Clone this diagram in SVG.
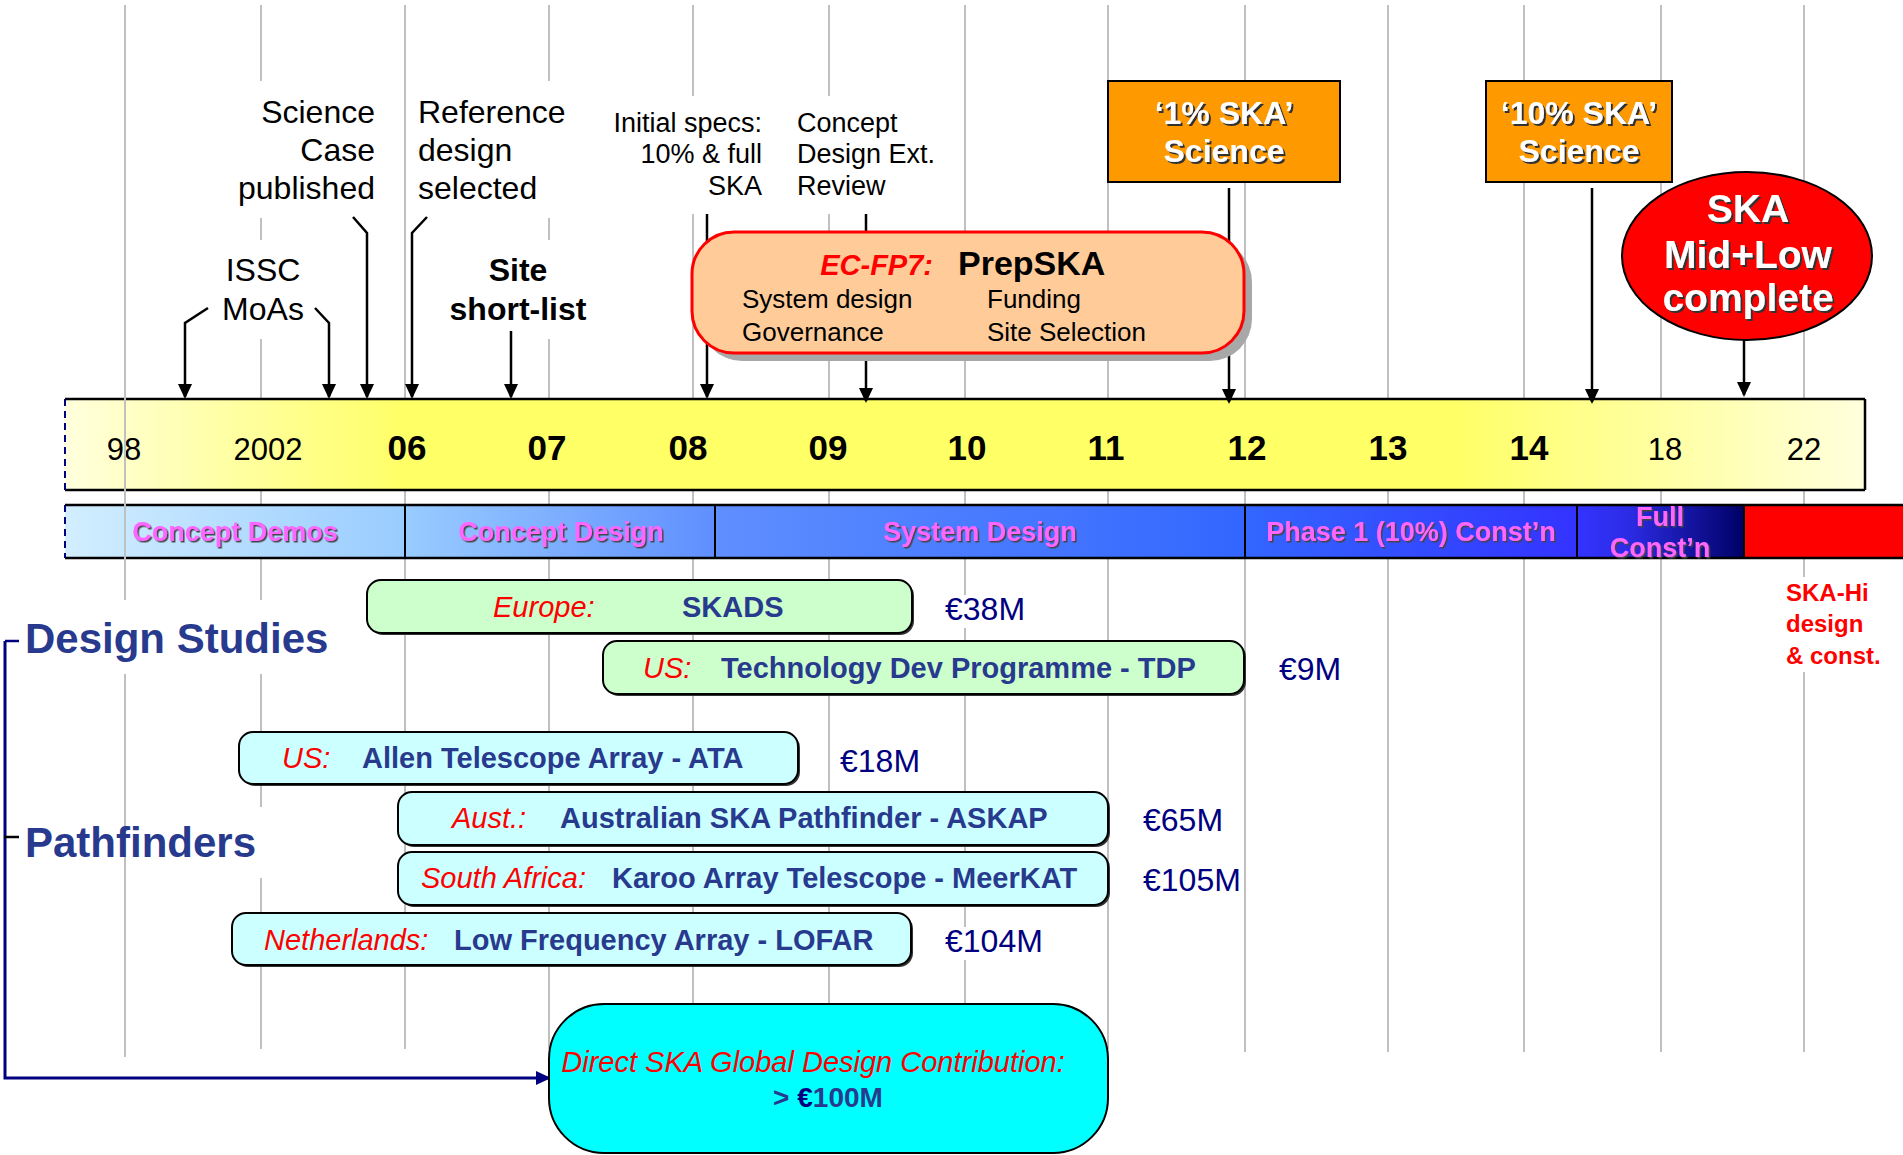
<svg xmlns="http://www.w3.org/2000/svg" width="1903" height="1155" viewBox="0 0 1903 1155">
<style>
text{font-family:"Liberation Sans",Arial,Helvetica,sans-serif}
.g{stroke:#C0C0C0;stroke-width:2;fill:none}
.bg{fill:#FFFFFF}
.lbl{font-size:32px;fill:#000}
.lbl27{font-size:27px;fill:#000}
.yr{font-size:31px;fill:#000}
.yrb{font-size:35px;font-weight:bold;fill:#000}
.ph{font-size:27px;font-weight:bold;fill:#FF66FF;filter:url(#sh1)}
.wt{font-weight:bold;fill:#FFFFFF;filter:url(#sh2)}
.arr{stroke:#000;stroke-width:2.5;fill:none;marker-end:url(#ah)}
.red{fill:#FF0000;font-style:italic}
.nv{fill:#283A8E;font-weight:bold}
.eu{fill:#000080;font-size:32px}
.bx{font-size:29px}
.gbox{fill:#CCFFCC;stroke:#000;stroke-width:2}
.cbox{fill:#CCFFFF;stroke:#000;stroke-width:2}
.shd{fill:#333}
.hd{font-size:42px;font-weight:bold;fill:#283A8E}
</style>
<defs>
<filter id="sh1" x="-5%" y="-20%" width="110%" height="140%"><feDropShadow dx="1.5" dy="1.5" stdDeviation="0" flood-color="#444"/></filter>
<filter id="sh2" x="-5%" y="-20%" width="110%" height="140%"><feDropShadow dx="2" dy="2" stdDeviation="0.3" flood-color="#333"/></filter>
<marker id="ah" viewBox="0 0 15 14" refX="13" refY="7" markerWidth="15" markerHeight="14" markerUnits="userSpaceOnUse" orient="auto"><path d="M0,0 L15,7 L0,14 z" fill="#000"/></marker>
<marker id="ahn" viewBox="0 0 15 14" refX="13" refY="7" markerWidth="15" markerHeight="14" markerUnits="userSpaceOnUse" orient="auto"><path d="M0,0 L15,7 L0,14 z" fill="#000080"/></marker>
<linearGradient id="yel" gradientUnits="userSpaceOnUse" x1="65" y1="0" x2="1865" y2="0">
<stop offset="0" stop-color="#FFFFDD"/><stop offset="0.19" stop-color="#FFFF66"/><stop offset="0.77" stop-color="#FFFF66"/><stop offset="1" stop-color="#FFFFDD"/>
</linearGradient>
<linearGradient id="p1" x1="0" y1="0" x2="1" y2="0"><stop offset="0" stop-color="#D2EEFF"/><stop offset="1" stop-color="#99CCFF"/></linearGradient>
<linearGradient id="p2" x1="0" y1="0" x2="1" y2="0"><stop offset="0" stop-color="#99CCFF"/><stop offset="1" stop-color="#5F8FFF"/></linearGradient>
<linearGradient id="p3" x1="0" y1="0" x2="1" y2="0"><stop offset="0" stop-color="#5F8FFF"/><stop offset="1" stop-color="#3366FF"/></linearGradient>
<linearGradient id="p4" x1="0" y1="0" x2="1" y2="0"><stop offset="0" stop-color="#3366FF"/><stop offset="1" stop-color="#3333FF"/></linearGradient>
<linearGradient id="p5" x1="0" y1="0" x2="1" y2="0"><stop offset="0" stop-color="#3333FF"/><stop offset="0.3" stop-color="#2C2CE6"/><stop offset="1" stop-color="#000066"/></linearGradient>
</defs>

<rect width="1903" height="1155" fill="#FFFFFF"/>

<g id="grid">
<line class="g" x1="261" y1="5" x2="261" y2="1049"/>
<line class="g" x1="405" y1="5" x2="405" y2="1049"/>
<line class="g" x1="549" y1="5" x2="549" y2="1049"/>
<line class="g" x1="693" y1="5" x2="693" y2="1049"/>
<line class="g" x1="829" y1="5" x2="829" y2="1049"/>
<line class="g" x1="965" y1="5" x2="965" y2="1049"/>
<line class="g" x1="1108" y1="5" x2="1108" y2="1049"/>
<line class="g" x1="1245" y1="5" x2="1245" y2="1052"/>
<line class="g" x1="1388" y1="5" x2="1388" y2="1052"/>
<line class="g" x1="1524" y1="5" x2="1524" y2="1052"/>
<line class="g" x1="1661" y1="5" x2="1661" y2="1052"/>
<line class="g" x1="1804" y1="5" x2="1804" y2="1052"/>
</g>

<g id="text-backgrounds">
<rect class="bg" x="250" y="81" width="135" height="137"/>
<rect class="bg" x="412" y="81" width="163" height="137"/>
<rect class="bg" x="215" y="240" width="95" height="99"/>
<rect class="bg" x="445" y="240" width="147" height="99"/>
<rect class="bg" x="610" y="96" width="158" height="118"/>
<rect class="bg" x="792" y="96" width="148" height="118"/>
<rect class="bg" x="20" y="600" width="325" height="74"/>
<rect class="bg" x="20" y="807" width="250" height="71"/>
<rect class="bg" x="1780" y="577" width="110" height="95"/>
<rect class="bg" x="940" y="595" width="90" height="33"/>
<rect class="bg" x="940" y="927" width="100" height="33"/>
</g>

<g id="timeline-bar">
<rect x="65" y="399" width="1800" height="91" fill="url(#yel)"/>
<line x1="65" y1="399" x2="1865" y2="399" stroke="#000" stroke-width="2.5"/>
<line x1="65" y1="490" x2="1865" y2="490" stroke="#000" stroke-width="2.5"/>
<line x1="1865" y1="399" x2="1865" y2="490" stroke="#000" stroke-width="2.5"/>
<line x1="65" y1="399" x2="65" y2="490" stroke="#000080" stroke-width="2" stroke-dasharray="7,5"/>
<text class="yr" x="124" y="460" text-anchor="middle">98</text>
<text class="yr" x="268" y="460" text-anchor="middle">2002</text>
<text class="yrb" x="407" y="460" text-anchor="middle">06</text>
<text class="yrb" x="547" y="460" text-anchor="middle">07</text>
<text class="yrb" x="688" y="460" text-anchor="middle">08</text>
<text class="yrb" x="828" y="460" text-anchor="middle">09</text>
<text class="yrb" x="967" y="460" text-anchor="middle">10</text>
<text class="yrb" x="1106" y="460" text-anchor="middle">11</text>
<text class="yrb" x="1247" y="460" text-anchor="middle">12</text>
<text class="yrb" x="1388" y="460" text-anchor="middle">13</text>
<text class="yrb" x="1529" y="460" text-anchor="middle">14</text>
<text class="yr" x="1665" y="460" text-anchor="middle">18</text>
<text class="yr" x="1804" y="460" text-anchor="middle">22</text>
</g>

<g id="phase-bar">
<rect x="65" y="505" width="340" height="53" fill="url(#p1)"/>
<rect x="405" y="505" width="310" height="53" fill="url(#p2)"/>
<rect x="715" y="505" width="530" height="53" fill="url(#p3)"/>
<rect x="1245" y="505" width="332" height="53" fill="url(#p4)"/>
<rect x="1577" y="505" width="167" height="53" fill="url(#p5)"/>
<rect x="1744" y="505" width="159" height="53" fill="#FF0000"/>
<line x1="65" y1="505" x2="1903" y2="505" stroke="#000" stroke-width="2.5"/>
<line x1="65" y1="558" x2="1903" y2="558" stroke="#000" stroke-width="2.5"/>
<line x1="65" y1="505" x2="65" y2="558" stroke="#000080" stroke-width="2" stroke-dasharray="7,5"/>
<line x1="405" y1="505" x2="405" y2="558" stroke="#000" stroke-width="2"/>
<line x1="715" y1="505" x2="715" y2="558" stroke="#000" stroke-width="2"/>
<line x1="1245" y1="505" x2="1245" y2="558" stroke="#000" stroke-width="2"/>
<line x1="1577" y1="505" x2="1577" y2="558" stroke="#000" stroke-width="2"/>
<line x1="1744" y1="505" x2="1744" y2="558" stroke="#000" stroke-width="2"/>
<text class="ph" x="235" y="541" text-anchor="middle">Concept Demos</text>
<text class="ph" x="561" y="541" text-anchor="middle">Concept Design</text>
<text class="ph" x="980" y="541" text-anchor="middle">System Design</text>
<text class="ph" x="1411" y="541" text-anchor="middle">Phase 1 (10%) Const’n</text>
<text class="ph" x="1660" y="526" text-anchor="middle">Full</text>
<text class="ph" x="1660" y="557" text-anchor="middle">Const’n</text>
</g>

<g id="grid-front">
<line class="g" x1="125" y1="5" x2="125" y2="600"/>
<line class="g" x1="125" y1="674" x2="125" y2="1057"/>
</g>

<g id="connectors">
<polyline class="arr" points="208,308 185,323 185,397"/>
<polyline class="arr" points="315,308 329,323 329,397"/>
<polyline class="arr" points="353,217 367,233 367,397"/>
<polyline class="arr" points="427,217 412,233 412,397"/>
<line class="arr" x1="511" y1="331" x2="511" y2="397"/>
<line class="arr" x1="707" y1="214" x2="707" y2="397"/>
<line class="arr" x1="866" y1="214" x2="866" y2="401"/>
<line class="arr" x1="1229" y1="188" x2="1229" y2="402"/>
<line class="arr" x1="1592" y1="188" x2="1592" y2="402"/>
<line class="arr" x1="1744" y1="339" x2="1744" y2="395"/>
<polyline points="5,641 5,1078 549,1078" fill="none" stroke="#000080" stroke-width="3" marker-end="url(#ahn)"/>
<line x1="5" y1="641" x2="19" y2="641" stroke="#000080" stroke-width="2.5"/>
<line x1="4" y1="837" x2="19" y2="837" stroke="#000" stroke-width="2.5"/>
</g>

<g id="label-issc"><text class="lbl" x="263" y="281" text-anchor="middle">ISSC</text><text class="lbl" x="263" y="320" text-anchor="middle">MoAs</text></g>
<g id="label-science-case"><text class="lbl" text-anchor="end"><tspan x="375" y="123">Science</tspan><tspan x="375" y="161">Case</tspan><tspan x="375" y="199">published</tspan></text></g>
<g id="label-reference"><text class="lbl"><tspan x="418" y="123">Reference</tspan><tspan x="418" y="161">design</tspan><tspan x="418" y="199">selected</tspan></text></g>
<g id="label-site"><text class="lbl" font-weight="bold" text-anchor="middle"><tspan x="518" y="281">Site</tspan><tspan x="518" y="320">short-list</tspan></text></g>
<g id="label-initial-specs"><text class="lbl27" text-anchor="end"><tspan x="762" y="132">Initial specs:</tspan><tspan x="762" y="163">10% &amp; full</tspan><tspan x="762" y="195">SKA</tspan></text></g>
<g id="label-concept-review"><text class="lbl27"><tspan x="797" y="132">Concept</tspan><tspan x="797" y="163">Design Ext.</tspan><tspan x="797" y="195">Review</tspan></text></g>

<g id="node-prepska">
<rect x="700" y="240" width="552" height="121" rx="42" fill="#A8A8A8"/>
<rect x="692" y="232" width="552" height="121" rx="42" fill="#FFCC99" stroke="#FF0000" stroke-width="3"/>
<text x="933" y="275" text-anchor="end" font-size="29" font-weight="bold" font-style="italic" fill="#FF0000">EC-FP7:</text>
<text x="958" y="275" font-size="34" font-weight="bold" fill="#000">PrepSKA</text>
<text font-size="26" fill="#000"><tspan x="742" y="308">System design</tspan><tspan x="742" y="341">Governance</tspan></text>
<text font-size="26" fill="#000"><tspan x="987" y="308">Funding</tspan><tspan x="987" y="341">Site Selection</tspan></text>
</g>

<g id="node-1pct">
<rect x="1108" y="81" width="232" height="101" fill="#FF9900" stroke="#000" stroke-width="2"/>
<text class="wt" font-size="32" text-anchor="middle"><tspan x="1224" y="124">‘1% SKA’</tspan><tspan x="1224" y="162">Science</tspan></text>
</g>

<g id="node-10pct">
<rect x="1486" y="81" width="186" height="101" fill="#FF9900" stroke="#000" stroke-width="2"/>
<text class="wt" font-size="32" text-anchor="middle"><tspan x="1579" y="124">‘10% SKA’</tspan><tspan x="1579" y="162">Science</tspan></text>
</g>

<g id="node-ska-complete">
<ellipse cx="1747" cy="256" rx="125" ry="84" fill="#FF0000" stroke="#000" stroke-width="2"/>
<text class="wt" font-size="39" text-anchor="middle"><tspan x="1748" y="222">SKA</tspan><tspan x="1748" y="268">Mid+Low</tspan><tspan x="1748" y="311">complete</tspan></text>
</g>

<g id="label-ska-hi">
<text font-size="24" font-weight="bold" fill="#FF0000"><tspan x="1786" y="601">SKA-Hi</tspan><tspan x="1786" y="632">design</tspan><tspan x="1786" y="664">&amp; const.</tspan></text>
</g>

<g id="heading-design-studies"><text class="hd" x="25" y="653">Design Studies</text></g>
<g id="heading-pathfinders"><text class="hd" x="25" y="857">Pathfinders</text></g>

<g id="node-skads">
<rect class="shd" x="369" y="582" width="545" height="53" rx="14"/>
<rect class="gbox" x="367" y="580" width="545" height="53" rx="14"/>
<text class="bx red" x="493" y="617">Europe:</text>
<text class="bx nv" x="682" y="617">SKADS</text>
<text class="eu" x="945" y="620">€38M</text>
</g>

<g id="node-tdp">
<rect class="shd" x="605" y="643" width="641" height="53" rx="14"/>
<rect class="gbox" x="603" y="641" width="641" height="53" rx="14"/>
<text class="bx red" x="643" y="678">US:</text>
<text class="bx nv" x="721" y="678">Technology Dev Programme - TDP</text>
<text class="eu" x="1279" y="680">€9M</text>
</g>

<g id="node-ata">
<rect class="shd" x="241" y="734" width="559" height="52" rx="14"/>
<rect class="cbox" x="239" y="732" width="559" height="52" rx="14"/>
<text class="bx red" x="282" y="768">US:</text>
<text class="bx nv" x="362" y="768">Allen Telescope Array - ATA</text>
<text class="eu" x="840" y="772">€18M</text>
</g>

<g id="node-askap">
<rect class="shd" x="400" y="794" width="710" height="53" rx="14"/>
<rect class="cbox" x="398" y="792" width="710" height="53" rx="14"/>
<text class="bx red" x="452" y="828">Aust.:</text>
<text class="bx nv" x="560" y="828">Australian SKA Pathfinder - ASKAP</text>
<text class="eu" x="1143" y="831">€65M</text>
</g>

<g id="node-meerkat">
<rect class="shd" x="400" y="854" width="710" height="53" rx="14"/>
<rect class="cbox" x="398" y="852" width="710" height="53" rx="14"/>
<text class="bx red" x="421" y="888">South Africa:</text>
<text class="bx nv" x="612" y="888">Karoo Array Telescope - MeerKAT</text>
<text class="eu" x="1143" y="891">€105M</text>
</g>

<g id="node-lofar">
<rect class="shd" x="234" y="915" width="679" height="52" rx="14"/>
<rect class="cbox" x="232" y="913" width="679" height="52" rx="14"/>
<text class="bx red" x="264" y="950">Netherlands:</text>
<text class="bx nv" x="454" y="950">Low Frequency Array - LOFAR</text>
<text class="eu" x="945" y="952">€104M</text>
</g>

<g id="node-global-contribution">
<rect x="549" y="1004" width="559" height="149" rx="55" fill="#00FFFF" stroke="#000" stroke-width="2"/>
<text x="813" y="1072" text-anchor="middle" font-size="29" font-style="italic" fill="#FF0000">Direct SKA Global Design Contribution:</text>
<text x="828" y="1107" text-anchor="middle" font-size="28" font-weight="bold" fill="#283A8E">&gt; <tspan fill="#000080">€</tspan>100M</text>
</g>
</svg>
